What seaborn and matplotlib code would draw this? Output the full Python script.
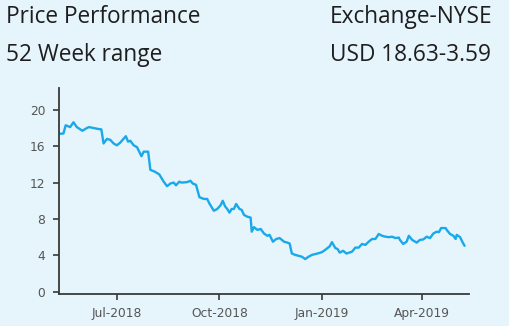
import matplotlib
matplotlib.use("Agg")
import matplotlib.pyplot as plt
import matplotlib.dates as mdates
import numpy as np
import pandas as pd
import seaborn as sns

# Daily close samples over the 52-week window
dates = [
    "2018-05-10", "2018-05-14", "2018-05-16", "2018-05-20", "2018-05-23", "2018-05-26",
    "2018-05-31", "2018-06-04", "2018-06-06", "2018-06-10", "2018-06-14", "2018-06-17",
    "2018-06-19", "2018-06-22", "2018-06-25", "2018-06-28", "2018-07-01", "2018-07-04",
    "2018-07-09", "2018-07-11", "2018-07-13", "2018-07-16", "2018-07-19", "2018-07-23",
    "2018-07-25", "2018-07-29", "2018-07-31", "2018-08-04", "2018-08-08", "2018-08-12",
    "2018-08-15", "2018-08-18", "2018-08-21", "2018-08-23", "2018-08-26", "2018-08-28",
    "2018-09-02", "2018-09-05", "2018-09-07", "2018-09-10", "2018-09-13", "2018-09-17",
    "2018-09-20", "2018-09-22", "2018-09-26", "2018-09-29", "2018-10-02", "2018-10-04",
    "2018-10-06", "2018-10-08", "2018-10-10", "2018-10-12", "2018-10-14", "2018-10-16",
    "2018-10-19", "2018-10-21", "2018-10-23", "2018-10-26", "2018-10-29", "2018-10-30",
    "2018-11-01", "2018-11-04", "2018-11-07", "2018-11-10", "2018-11-13", "2018-11-15",
    "2018-11-18", "2018-11-21", "2018-11-24", "2018-11-28", "2018-12-01", "2018-12-03",
    "2018-12-05", "2018-12-08", "2018-12-11", "2018-12-14", "2018-12-17", "2018-12-20",
    "2018-12-23", "2018-12-28", "2019-01-01", "2019-01-05", "2019-01-08", "2019-01-10",
    "2019-01-13", "2019-01-15", "2019-01-17", "2019-01-20", "2019-01-23", "2019-01-28",
    "2019-01-31", "2019-02-03", "2019-02-06", "2019-02-09", "2019-02-12", "2019-02-15",
    "2019-02-18", "2019-02-21", "2019-02-24", "2019-02-27", "2019-03-02", "2019-03-05",
    "2019-03-08", "2019-03-11", "2019-03-12", "2019-03-15", "2019-03-18", "2019-03-20",
    "2019-03-23", "2019-03-27", "2019-03-30", "2019-04-02", "2019-04-05", "2019-04-08",
    "2019-04-11", "2019-04-14", "2019-04-16", "2019-04-18", "2019-04-22", "2019-04-23",
    "2019-04-26", "2019-04-29", "2019-05-01", "2019-05-02", "2019-05-05", "2019-05-07",
    "2019-05-09",
]
prices = [
    17.35, 17.40, 18.30, 18.10, 18.63, 18.10,
    17.70, 18.00, 18.10, 18.00, 17.90, 17.85,
    16.30, 16.80, 16.70, 16.30, 16.10, 16.40,
    17.10, 16.50, 16.60, 16.10, 15.90, 14.90,
    15.40, 15.40, 13.40, 13.20, 12.90, 12.10,
    11.60, 11.90, 12.00, 11.70, 12.10, 12.00,
    12.05, 12.20, 11.90, 11.75, 10.40, 10.20,
    10.20, 9.70, 8.90, 9.10, 9.50, 10.00,
    9.40, 9.10, 8.70, 9.10, 9.10, 9.65,
    9.10, 9.00, 8.45, 8.25, 8.15, 6.60,
    7.10, 6.80, 6.90, 6.40, 6.15, 6.25,
    5.50, 5.80, 5.90, 5.50, 5.40, 5.30,
    4.20, 4.05, 3.95, 3.85, 3.59, 3.85,
    4.05, 4.20, 4.35, 4.70, 5.00, 5.45,
    4.80, 4.70, 4.30, 4.50, 4.20, 4.40,
    4.85, 4.85, 5.25, 5.15, 5.50, 5.80,
    5.80, 6.35, 6.15, 6.05, 6.00, 6.05,
    5.90, 5.95, 5.70, 5.25, 5.50, 6.15,
    5.70, 5.40, 5.70, 5.75, 6.05, 5.90,
    6.40, 6.60, 6.55, 7.00, 7.00, 6.80,
    6.35, 6.15, 5.80, 6.25, 6.00, 5.50,
    5.05,
]
y_ticks = [0, 4, 8, 12, 16, 20]

title_left = ["Price Performance", "52 Week range"]
title_right = ["Exchange-NYSE", "USD 18.63-3.59"]

BG = "#E6F4FC"
LINE = "#19A9EA"
AXIS = "#3a3a3a"
TICKTXT = "#555555"

sns.set_theme(style="ticks", rc={
    "figure.facecolor": BG,
    "axes.facecolor": BG,
    "axes.edgecolor": AXIS,
    "axes.linewidth": 1.3,
    "xtick.color": AXIS,
    "ytick.color": AXIS,
    "xtick.labelcolor": TICKTXT,
    "ytick.labelcolor": TICKTXT,
})
plt.rcParams["font.family"] = ["DejaVu Sans"]

df = pd.DataFrame({"date": pd.to_datetime(dates), "price": prices})

fig = plt.figure(figsize=(5.09, 3.26), dpi=100)
ax = fig.add_axes([59 / 509, 1 - 294 / 326, (469 - 59) / 509, (294 - 88) / 326])

sns.lineplot(data=df, x="date", y="price", ax=ax, color=LINE, linewidth=1.7)

ax.set_xlim(pd.Timestamp("2018-05-10"), pd.Timestamp("2019-05-13"))
ax.set_ylim(-0.25, 22.4)
ax.set_yticks(y_ticks)
ax.xaxis.set_major_locator(mdates.MonthLocator(bymonth=[1, 4, 7, 10]))
ax.xaxis.set_major_formatter(mdates.DateFormatter("%b-%Y"))
ax.tick_params(axis="both", labelsize=8.8, length=4.3, width=1.2)
ax.tick_params(axis="x", pad=5)
ax.tick_params(axis="y", pad=5.5)
ax.set_xlabel("")
ax.set_ylabel("")
sns.despine(ax=ax)

txt_kw = dict(fontsize=16.3, color="#1e1e1e", family=["Open Sans", "DejaVu Sans"], va="baseline")
fig.text(6 / 509, 1 - 23 / 326, title_left[0], ha="left", **txt_kw)
fig.text(6 / 509, 1 - 61 / 326, title_left[1], ha="left", **txt_kw)
fig.text(330 / 509, 1 - 23 / 326, title_right[0], ha="left", **txt_kw)
fig.text(330 / 509, 1 - 61 / 326, title_right[1], ha="left", **txt_kw)

fig.savefig("out.png", dpi=100, facecolor=BG)
